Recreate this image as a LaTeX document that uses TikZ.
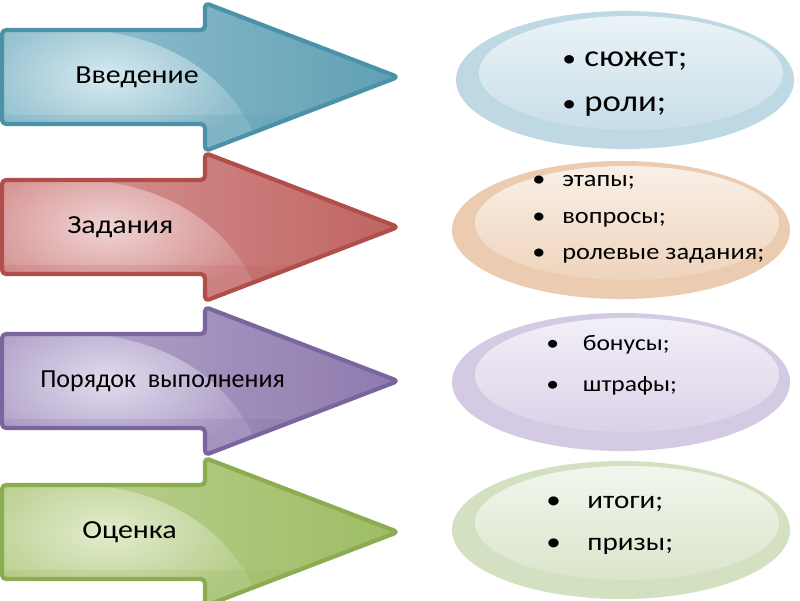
\documentclass[tikz,border=0pt]{standalone}
\usepackage{fontspec}
\setmainfont{Carlito}[FakeStretch=1.15]
\newfontfamily\plainfont{Carlito}
\usetikzlibrary{shapes.geometric}
\definecolor{blueD}{RGB}{75,146,168}
\definecolor{blueM}{RGB}{96,160,180}
\definecolor{blueL}{RGB}{214,234,240}
\definecolor{redD}{RGB}{176,78,76}
\definecolor{redM}{RGB}{192,100,98}
\definecolor{redL}{RGB}{240,212,212}
\definecolor{purD}{RGB}{122,102,158}
\definecolor{purM}{RGB}{142,122,174}
\definecolor{purL}{RGB}{226,219,238}
\definecolor{grnD}{RGB}{140,172,82}
\definecolor{grnM}{RGB}{158,188,100}
\definecolor{grnL}{RGB}{226,236,206}
\definecolor{oblue}{RGB}{190,216,228}
\definecolor{ored}{RGB}{236,204,176}
\definecolor{opur}{RGB}{212,202,228}
\definecolor{ogrn}{RGB}{212,224,194}
\newcommand\arrowpath[1]{(2,#1-47) -- (205,#1-47) -- (205,#1-74) -- (398,#1)
  -- (205,#1+74) -- (205,#1+47) -- (2,#1+47) -- cycle}
\newcommand\smallbul{{\fontsize{17}{20}\selectfont•}}
\tikzset{
  arr/.style  ={line width=3pt,rounded corners=3pt,line join=round},
  lbl/.style  ={font=\fontsize{18.5}{22}\selectfont,inner sep=0pt},
  blob/.style ={ellipse,minimum width=8.45cm,minimum height=3.45cm},
  shine/.style={ellipse,minimum width=7.6cm,minimum height=2.85cm},
  pts/.style  ={inner sep=0pt,anchor=west},
}
\begin{document}
\begin{tikzpicture}[x=0.025cm,y=-0.025cm]
  \useasboundingbox (0,0) rectangle (800,600);
  % arrows
  \foreach \i/\c/\col/\tx/\txt in {1/77/blue/75/Введение,2/227/red/67/Задания,
      3/381/pur/40/{\plainfont Порядок\ \ выполнения},4/532/grn/82/Оценка}{
    \begin{scope}
      \clip[rounded corners=3pt] \arrowpath{\c};
      \shade[left color=\col M!50!\col L,right color=\col M] (0,\c-80) rectangle (400,\c+80);
      \shade[inner color=\col L,outer color=\col M!65!\col L]
        (-40,\c-80) -- (90,\c-80) -- (90,\c-47) .. controls (180,\c-40) and (235,\c+10) .. (255,\c+60)
        -- (255,\c+80) -- (-40,\c+80) -- cycle;
      \fill[\col D,opacity=.15] (0,\c+38) rectangle (400,\c+80);
    \end{scope}
    \draw[arr,draw=\col D] \arrowpath{\c};
    \node[lbl,anchor=west] (a\i) at (\tx,\c) {\txt};
  }
  % ellipses
  \foreach \e/\cx/\cy/\col in {1/625/80/oblue,2/621/230/ored,3/621/382/opur,4/621/530/ogrn}{
    \node[blob,fill=\col] (e\e) at (\cx,\cy) {};
    \node[shine,top color=white!70!\col,bottom color=\col!85!white] (s\e) at (\cx+6,\cy-7) {};
  }
  % bullet lists
  \node[pts] (t1) at (562,80) {\fontsize{21.5}{32}\selectfont
    \begin{tabular}{@{}l@{\hspace{6pt}}l@{}}\smallbul & сюжет;\\ \smallbul & роли;\end{tabular}};
  \node[pts] (t2) at (532,216) {\fontsize{16.3}{26}\selectfont
    \begin{tabular}{@{}l@{\hspace{12pt}}l@{}}• & этапы;\\ • & вопросы;\\ • & ролевые задания;\end{tabular}};
  \node[pts] (t3) at (546,363) {\fontsize{15.8}{28.5}\selectfont
    \begin{tabular}{@{}l@{\hspace{17pt}}l@{}}• & бонусы;\\ • & штрафы;\end{tabular}};
  \node[pts] (t4) at (546,521) {\fontsize{18}{30}\selectfont
    \begin{tabular}{@{}l@{\hspace{19pt}}l@{}}• & итоги;\\ • & призы;\end{tabular}};
\end{tikzpicture}
\end{document}
